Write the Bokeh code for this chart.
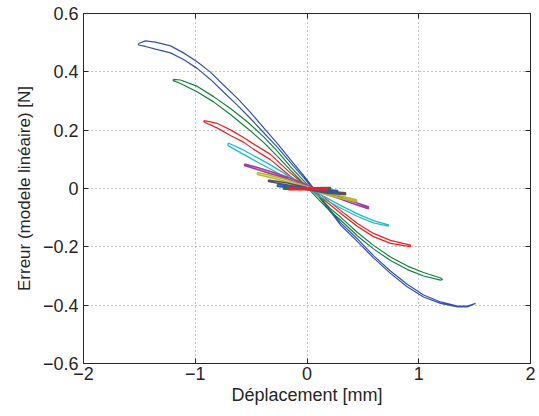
import json
from bokeh.plotting import figure
from bokeh.models import Range1d, FixedTicker, LinearAxis, CustomJSTickFormatter
from bokeh.embed import file_html
from bokeh.resources import INLINE

# ---------------- data ----------------
x_ticks = [-2, -1, 0, 1, 2]
x_tick_labels = ["−2", "−1", "0", "1", "2"]
y_ticks = [-0.6, -0.4, -0.2, 0, 0.2, 0.4, 0.6]
y_tick_labels = ["−0.6", "−0.4", "−0.2", "0", "0.2", "0.4", "0.6"]

x_label = "Déplacement [mm]"
y_label = "Erreur (modele linéaire) [N]"

# series 1 (blue, largest)
s1_x = [-1.508, -1.445, -1.356, -1.221, -1.105, -0.980, -0.864, -0.747, -0.622, -0.506, -0.389, -0.264, -0.148,
        -0.031, 0.094, 0.210, 0.300, 0.452, 0.595, 0.747, 0.899, 1.043, 1.195, 1.347, 1.436, 1.508]
s1_up = [0.497, 0.506, 0.502, 0.489, 0.465, 0.434, 0.399, 0.355, 0.309, 0.261, 0.209, 0.154, 0.099,
         0.045, -0.017, -0.074, -0.117, -0.173, -0.230, -0.283, -0.329, -0.365, -0.389, -0.403, -0.403, -0.394]
s1_dn = [0.492, 0.487, 0.478, 0.465, 0.442, 0.411, 0.374, 0.331, 0.285, 0.240, 0.192, 0.141, 0.089,
         0.038, -0.021, -0.079, -0.125, -0.182, -0.238, -0.291, -0.338, -0.372, -0.394, -0.406, -0.406, -0.394]

# series 2 (green)
s2_x = [-1.197, -1.132, -0.980, -0.836, -0.685, -0.532, -0.389, -0.264, -0.148, -0.031, 0.094, 0.210, 0.300,
        0.452, 0.595, 0.747, 0.899, 1.043, 1.195, 1.213]
s2_up = [0.374, 0.372, 0.350, 0.315, 0.274, 0.228, 0.178, 0.127, 0.075, 0.027, -0.024, -0.069, -0.098,
         -0.151, -0.195, -0.235, -0.266, -0.288, -0.307, -0.312]
s2_dn = [0.370, 0.360, 0.331, 0.297, 0.254, 0.206, 0.158, 0.110, 0.063, 0.017, -0.034, -0.079, -0.108,
         -0.163, -0.207, -0.247, -0.278, -0.300, -0.314, -0.312]

# series 3 (red)
s3_x = [-0.922, -0.801, -0.685, -0.568, -0.479, -0.327, -0.174, -0.058, 0.031, 0.121, 0.300, 0.452, 0.595, 0.747, 0.926]
s3_up = [0.233, 0.223, 0.201, 0.175, 0.153, 0.117, 0.062, 0.024, 0.002, -0.021, -0.075, -0.120, -0.154, -0.178, -0.194]
s3_dn = [0.228, 0.207, 0.182, 0.159, 0.135, 0.099, 0.050, 0.014, -0.005, -0.029, -0.085, -0.130, -0.165, -0.188, -0.199]

# series 4 (cyan)
s4_x = [-0.706, -0.595, -0.479, -0.327, -0.174, -0.058, 0.013, 0.121, 0.300, 0.452, 0.595, 0.729]
s4_up = [0.156, 0.137, 0.113, 0.081, 0.045, 0.021, 0.003, -0.021, -0.058, -0.087, -0.110, -0.125]
s4_dn = [0.147, 0.123, 0.098, 0.067, 0.033, 0.012, -0.003, -0.029, -0.067, -0.096, -0.118, -0.129]

# series 5 (magenta)
s5_x = [-0.559, -0.443, -0.327, -0.174, -0.031, 0.058, 0.183, 0.300, 0.434, 0.550]
s5_up = [0.084, 0.072, 0.058, 0.039, 0.017, 0.002, -0.014, -0.029, -0.048, -0.063]
s5_dn = [0.079, 0.065, 0.051, 0.033, 0.010, -0.005, -0.021, -0.036, -0.055, -0.069]

# series 6 (yellow)
s6_x = [-0.443, -0.327, -0.174, -0.031, 0.058, 0.183, 0.300, 0.443]
s6_up = [0.055, 0.045, 0.029, 0.010, 0.000, -0.015, -0.026, -0.039]
s6_dn = [0.048, 0.038, 0.022, 0.003, -0.007, -0.022, -0.033, -0.045]

# series 7 (dark grey)
s7_x = [-0.345, -0.174, -0.004, 0.166, 0.345]
s7_up = [0.029, 0.019, 0.003, -0.009, -0.015]
s7_dn = [0.024, 0.012, -0.003, -0.015, -0.021]

# series 8 (blue, small)
s8_x = [-0.264, -0.130, -0.004, 0.139, 0.273]
s8_up = [0.014, 0.007, 0.002, -0.003, -0.007]
s8_dn = [0.007, 0.002, -0.003, -0.009, -0.012]

# series 9 (green, small)
s9_x = [-0.210, -0.004, 0.210]
s9_up = [0.003, 0.002, 0.003]
s9_dn = [-0.002, -0.002, -0.002]

# series 10 (red, small)
s10_x = [-0.166, 0.000, 0.183]
s10_up = [0.003, 0.002, 0.002]
s10_dn = [-0.003, -0.003, -0.003]

series = [
    (s1_x, s1_up, s1_dn), (s2_x, s2_up, s2_dn), (s3_x, s3_up, s3_dn), (s4_x, s4_up, s4_dn),
    (s5_x, s5_up, s5_dn), (s6_x, s6_up, s6_dn), (s7_x, s7_up, s7_dn), (s8_x, s8_up, s8_dn),
    (s9_x, s9_up, s9_dn), (s10_x, s10_up, s10_dn),
]
colors = ["#3453ae", "#12803c", "#ee2024", "#1fbcc4", "#a2409e", "#b9b82c", "#555555",
          "#3453ae", "#12803c", "#ee2024"]
widths = [1.2, 1.2, 1.2, 1.3, 1.6, 1.6, 1.6, 1.8, 1.8, 2.0]

# ---------------- figure ----------------
FONT = "Liberation Sans"
AX = "#262626"

p = figure(width=539, height=416, output_backend="svg", toolbar_location=None,
           x_range=Range1d(-2, 2), y_range=Range1d(-0.6, 0.6),
           min_border_left=83, min_border_right=9, min_border_top=13, min_border_bottom=53)
p.background_fill_color = "white"
p.border_fill_color = "white"
p.outline_line_color = AX
p.outline_line_width = 1


def fmt(ticks, labels):
    return CustomJSTickFormatter(code=(
        "const T = %s; const L = %s;"
        "for (let i = 0; i < T.length; i++) { if (Math.abs(T[i] - tick) < 1e-9) return L[i]; }"
        "return '';") % (json.dumps(ticks), json.dumps(labels)))


def style(ax, ticks, labels, show):
    ax.ticker = FixedTicker(ticks=ticks)
    ax.minor_tick_line_color = None
    ax.major_tick_in = 5
    ax.major_tick_out = 0
    ax.major_tick_line_color = AX
    ax.axis_line_color = AX
    ax.major_label_text_font = FONT
    ax.major_label_text_color = AX
    if show:
        ax.formatter = fmt(ticks, labels)
        ax.major_label_text_font_size = "18px"
    else:
        ax.formatter = CustomJSTickFormatter(code="return '';")
        ax.major_label_text_font_size = "8px"
        ax.major_label_standoff = 0


style(p.xaxis[0], x_ticks, x_tick_labels, True)
style(p.yaxis[0], y_ticks, y_tick_labels, True)
p.xaxis[0].major_label_standoff = 3
p.yaxis[0].major_label_standoff = 5

p.xaxis[0].axis_label = x_label
p.yaxis[0].axis_label = y_label
for ax in (p.xaxis[0], p.yaxis[0]):
    ax.axis_label_text_font = FONT
    ax.axis_label_text_font_style = "normal"
    ax.axis_label_text_color = AX
p.xaxis[0].axis_label_text_font_size = "18px"
p.yaxis[0].axis_label_text_font_size = "17px"
p.xaxis[0].axis_label_standoff = 2
p.yaxis[0].axis_label_standoff = 6

top = LinearAxis()
style(top, x_ticks, x_tick_labels, False)
p.add_layout(top, "above")
right = LinearAxis()
style(right, y_ticks, y_tick_labels, False)
p.add_layout(right, "right")

for g in (p.xgrid[0], p.ygrid[0]):
    g.grid_line_color = "#8a8a8a"
    g.grid_line_dash = "1 3"
    g.grid_line_width = 1
p.xgrid[0].ticker = FixedTicker(ticks=x_ticks)
p.ygrid[0].ticker = FixedTicker(ticks=y_ticks)

for (sx, su, sd), c, w in zip(series, colors, widths):
    xs = list(sx) + list(sx[::-1]) + [sx[0]]
    ys = list(su) + list(sd[::-1]) + [su[0]]
    p.line(xs, ys, line_color=c, line_width=w)

open("out.html", "w").write(file_html(p, INLINE))
